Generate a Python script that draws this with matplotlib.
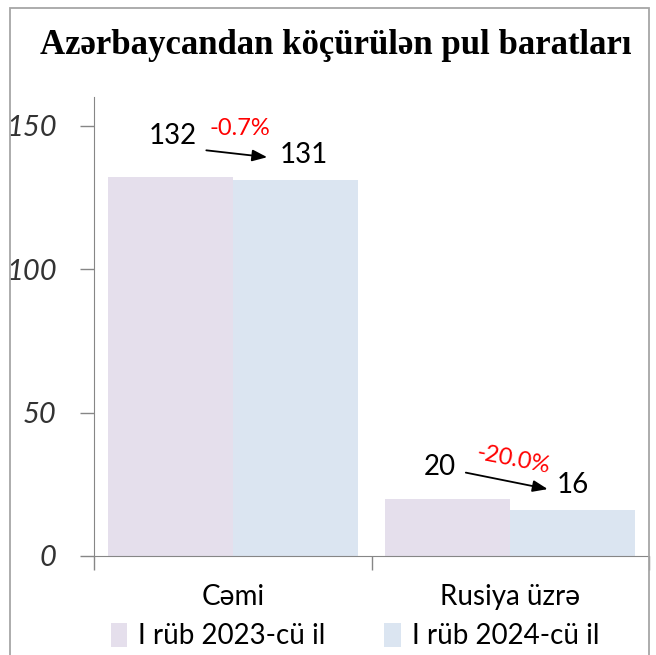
import matplotlib
matplotlib.use("Agg")
import matplotlib.pyplot as plt
from matplotlib.patches import Rectangle
import numpy as np

title = "Azərbaycandan köçürülən pul baratları"
categories = ["Cəmi", "Rusiya üzrə"]
series_names = ["I rüb 2023-cü il", "I rüb 2024-cü il"]
values_2023 = [132, 20]
values_2024 = [131, 16]
changes = ["-0.7%", "-20.0%"]
yticks = [0, 50, 100, 150]

colors = ["#E5DFEC", "#DBE5F1"]
font = ["Lato", "DejaVu Sans"]

fig = plt.figure(figsize=(6.56, 6.55), dpi=100)
ax = fig.add_axes([94 / 656, 1 - 556 / 655, 555 / 656, 459 / 655])

x = np.arange(len(categories))
w = 0.45
b1 = ax.bar(x - w / 2, values_2023, w, color=colors[0], label=series_names[0])
b2 = ax.bar(x + w / 2, values_2024, w, color=colors[1], label=series_names[1])

ax.set_xlim(-0.5, 1.5)
ax.set_ylim(0, 160)
ax.set_yticks(yticks)
ax.set_yticklabels([str(t) for t in yticks], fontstyle="italic", fontsize=21,
                   family=font, color="#333333")
ax.tick_params(axis="y", length=10, width=1, color="#868686", pad=17)
ax.set_xticks(x)
ax.set_xticklabels(categories, fontsize=20, family=font)
ax.tick_params(axis="x", length=0, pad=20)
ax.set_xticks([-0.5, 0.5, 1.5], minor=True)
ax.tick_params(axis="x", which="minor", length=10, width=1, color="#868686")

for s in ["top", "right"]:
    ax.spines[s].set_visible(False)
for s in ["left", "bottom"]:
    ax.spines[s].set_color("#868686")

# value labels above the bars
off1 = [(2, 30), (-6, 23)]
off2 = [(6, 18), (0, 18)]
for i in range(len(categories)):
    v1, v2 = values_2023[i], values_2024[i]
    x1, x2 = x[i] - w / 2, x[i] + w / 2
    ax.annotate(str(v1), (x1, v1), xytext=off1[i], textcoords="offset points",
                ha="center", va="center", fontsize=20, family=font)
    ax.annotate(str(v2), (x2, v2), xytext=off2[i], textcoords="offset points",
                ha="center", va="center", fontsize=20, family=font)


def arrow(xa, ya, xb, yb):
    ax.annotate("", xy=(xb, yb), xytext=(xa, ya), xycoords="figure pixels",
                arrowprops=dict(arrowstyle="-|>,head_length=0.9,head_width=0.35",
                                color="black", lw=1.3, shrinkA=0, shrinkB=0))


trans = ax.transData
for i in range(len(categories)):
    p1 = trans.transform((x[i] - w / 2, values_2023[i]))
    p2 = trans.transform((x[i] + w / 2, values_2024[i]))
    if i == 0:
        arrow(p1[0] + 36, p1[1] + 27, p2[0] - 28, p2[1] + 23)
        ax.annotate(changes[i], (x[i], values_2023[i]), xytext=(5, 35),
                    textcoords="offset points", ha="center", va="center",
                    fontsize=17, color="red", family=font)
    else:
        arrow(p1[0] + 18, p1[1] + 26, p2[0] - 25, p2[1] + 21)
        ax.annotate(changes[i], (x[i], values_2023[i]), xytext=(2, 28),
                    textcoords="offset points", ha="center", va="center",
                    fontsize=17, color="red", family=font, rotation=-11)

fig.text(336 / 656, 1 - 45 / 655, title, ha="center", va="center",
         fontsize=25, fontweight="bold", family="Liberation Serif")

leg = fig.legend(handles=[b1, b2], labels=series_names, loc="center",
                 bbox_to_anchor=(355 / 656, 1 - 636 / 655), ncol=2, frameon=False,
                 prop={"family": font, "size": 20}, handlelength=0.6,
                 handleheight=1.0, handletextpad=0.4, columnspacing=2.1)

fig.patches.append(Rectangle((10 / 656, -0.05), 639 / 656, 1.05 - 8 / 655,
                             transform=fig.transFigure, fill=False,
                             edgecolor="#A6A6A6", lw=1.3))

fig.savefig("out.png", dpi=100)
